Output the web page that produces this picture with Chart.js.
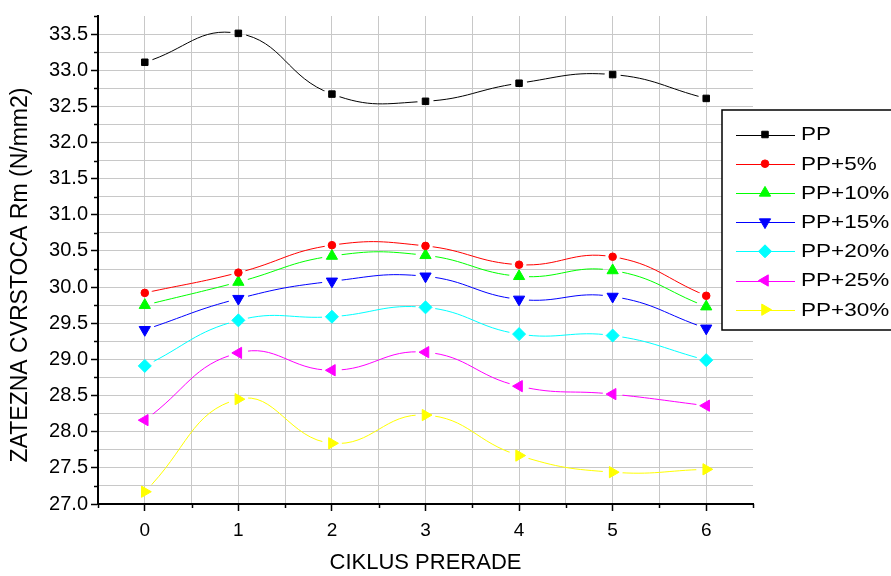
<!DOCTYPE html>
<html>
<head>
<meta charset="utf-8">
<script src="https://cdn.jsdelivr.net/npm/chart.js@4.4.0/dist/chart.umd.min.js"></script>
<style>
  html, body { margin: 0; padding: 0; background: #ffffff; }
  #wrap { width: 891px; height: 576px; position: relative; }
</style>
</head>
<body>
<div id="wrap"><canvas id="c" width="891" height="576"></canvas></div>
<script>
// Tensile strength per processing cycle for PP and PP blends
const cycles = [0, 1, 2, 3, 4, 5, 6];
const seriesNames = ['PP', 'PP+5%', 'PP+10%', 'PP+15%', 'PP+20%', 'PP+25%', 'PP+30%'];
const pp   = [33.11, 33.51, 32.67, 32.57, 32.82, 32.94, 32.61];
const pp5  = [29.92, 30.20, 30.58, 30.57, 30.31, 30.42, 29.88];
const pp10 = [29.75, 30.07, 30.43, 30.44, 30.15, 30.23, 29.73];
const pp15 = [29.41, 29.84, 30.08, 30.15, 29.83, 29.87, 29.43];
const pp20 = [28.91, 29.54, 29.59, 29.72, 29.35, 29.33, 28.99];
const pp25 = [28.16, 29.09, 28.85, 29.10, 28.63, 28.52, 28.36];
const pp30 = [27.17, 28.45, 27.84, 28.23, 27.67, 27.44, 27.48];
const xTickLabels = ['0', '1', '2', '3', '4', '5', '6'];
const yTickLabels = ['27.0', '27.5', '28.0', '28.5', '29.0', '29.5', '30.0', '30.5',
                     '31.0', '31.5', '32.0', '32.5', '33.0', '33.5'];

const FONT = "'Liberation Sans', Arial, sans-serif";
const GRID = '#c8c8c8';

const styles = [
  { color: '#000000', pointStyle: 'rect',     radius: 4.6, rotation: 0 },
  { color: '#ff0000', pointStyle: 'circle',   radius: 3.8, rotation: 0 },
  { color: '#00ff00', pointStyle: 'triangle', radius: 6.5, rotation: 0 },
  { color: '#0000ff', pointStyle: 'triangle', radius: 6.5, rotation: 180 },
  { color: '#00ffff', pointStyle: 'rectRot',  radius: 6.5, rotation: 0 },
  { color: '#ff00ff', pointStyle: 'triangle', radius: 6.5, rotation: 270 },
  { color: '#ffff00', pointStyle: 'triangle', radius: 6.5, rotation: 90 }
];
const values = [pp, pp5, pp10, pp15, pp20, pp25, pp30];

const datasets = values.map((vals, i) => ({
  label: seriesNames[i],
  data: cycles.map((c, j) => ({ x: c, y: vals[j] })),
  borderColor: styles[i].color,
  backgroundColor: styles[i].color,
  borderWidth: 1,
  pointStyle: styles[i].pointStyle,
  pointRadius: styles[i].radius,
  pointRotation: styles[i].rotation,
  pointBorderWidth: 1,
  pointBorderColor: styles[i].color,
  pointBackgroundColor: styles[i].color,
  tension: 0.45,
  fill: false
}));

// Draw text widened horizontally
function wideText(ctx, text, x, y, sx) {
  ctx.save();
  ctx.translate(x, y);
  ctx.scale(sx, 1);
  ctx.fillText(text, 0, 0);
  ctx.restore();
}

function drawMarker(ctx, st, x, y) {
  const opts = { pointStyle: st.pointStyle, radius: st.radius, rotation: st.rotation, borderWidth: 1 };
  ctx.save();
  ctx.fillStyle = st.color;
  ctx.strokeStyle = st.color;
  ctx.lineWidth = 1;
  Chart.helpers.drawPoint(ctx, opts, x, y);
  ctx.restore();
}

// Leave a small gap in each connecting line around its markers
const markerGaps = {
  id: 'markerGaps',
  beforeDatasetDraw(chart, args) {
    const ctx = chart.ctx;
    const meta = args.meta;
    const gap = styles[args.index].radius + 3.5;
    ctx.save();
    ctx.beginPath();
    ctx.rect(0, 0, chart.width, chart.height);
    meta.data.forEach(p => {
      ctx.moveTo(p.x + gap, p.y);
      ctx.arc(p.x, p.y, gap, 0, Math.PI * 2);
    });
    ctx.clip('evenodd');
  },
  afterDatasetDraw(chart, args) {
    const ctx = chart.ctx;
    ctx.restore();
    args.meta.data.forEach(p => p.draw(ctx, chart.chartArea));
  }
};

const decorations = {
  id: 'decorations',
  afterDraw(chart) {
    const ctx = chart.ctx;
    const xs = chart.scales.x, ys = chart.scales.y;
    const area = chart.chartArea;

    // minor tick marks
    ctx.save();
    ctx.strokeStyle = '#000';
    ctx.lineWidth = 1.5;
    ys.ticks.forEach(t => {
      if (Math.abs(t.value * 2 - Math.round(t.value * 2)) > 1e-6) {
        const py = Math.round(ys.getPixelForValue(t.value)) + 0.5;
        ctx.beginPath();
        ctx.moveTo(area.left - 4, py);
        ctx.lineTo(area.left, py);
        ctx.stroke();
      }
    });
    xs.ticks.forEach(t => {
      if (!Number.isInteger(t.value)) {
        const px = Math.round(xs.getPixelForValue(t.value)) + 0.5;
        ctx.beginPath();
        ctx.moveTo(px, area.bottom);
        ctx.lineTo(px, area.bottom + 4);
        ctx.stroke();
      }
    });
    ctx.restore();

    // vertical axis title
    ctx.save();
    ctx.fillStyle = '#000';
    ctx.font = '23px ' + FONT;
    ctx.textAlign = 'center';
    ctx.textBaseline = 'middle';
    ctx.translate(21, 275);
    ctx.rotate(-Math.PI / 2);
    ctx.fillText('ZATEZNA CVRSTOCA Rm (N/mm2)', 0, 0);
    ctx.restore();

    // legend box
    const bx = 722, by = 110, bw = 200, bh = 220;
    ctx.save();
    ctx.fillStyle = '#fff';
    ctx.fillRect(bx, by, bw, bh);
    ctx.strokeStyle = '#000';
    ctx.lineWidth = 1.5;
    ctx.strokeRect(bx, by, bw, bh);
    chart.data.datasets.forEach((ds, i) => {
      const y = 134.5 + i * 29.2;
      ctx.strokeStyle = ds.borderColor;
      ctx.lineWidth = 1;
      ctx.beginPath();
      ctx.moveTo(736, Math.round(y) + 0.5);
      ctx.lineTo(795, Math.round(y) + 0.5);
      ctx.stroke();
      drawMarker(ctx, styles[i], 765, y);
      ctx.fillStyle = '#000';
      ctx.font = '18px ' + FONT;
      ctx.textAlign = 'left';
      ctx.textBaseline = 'middle';
      wideText(ctx, ds.label, 801, y + 1, 1.25);
    });
    ctx.restore();
  }
};

new Chart(document.getElementById('c'), {
  type: 'line',
  data: { datasets },
  plugins: [markerGaps, decorations],
  options: {
    responsive: false,
    animation: false,
    devicePixelRatio: 1,
    layout: { padding: { top: 16, right: 138, left: 0, bottom: 0 } },
    plugins: { legend: { display: false }, tooltip: { enabled: false } },
    scales: {
      x: {
        type: 'linear',
        min: -0.5,
        max: 6.5,
        afterFit: s => { s.height = 72; },
        border: { color: '#000', width: 2 },
        grid: {
          color: c => (c.tick && (c.tick.value <= -0.5 || c.tick.value >= 6.5)) ? 'rgba(0,0,0,0)' : GRID,
          lineWidth: 1,
          tickLength: 7,
          tickColor: c => (c.tick && Number.isInteger(c.tick.value)) ? '#000' : 'rgba(0,0,0,0)',
          tickWidth: 1.5
        },
        ticks: {
          stepSize: 0.5,
          autoSkip: false,
          maxRotation: 0,
          color: '#000',
          padding: 8,
          font: { family: FONT, size: 19 },
          callback: v => {
            const i = xTickLabels.indexOf(String(v));
            return i >= 0 ? xTickLabels[i] : '';
          }
        },
        title: {
          display: true,
          text: 'CIKLUS PRERADE',
          color: '#000',
          font: { family: FONT, size: 22 },
          padding: 0
        }
      },
      y: {
        min: 27.0,
        max: 33.75,
        afterFit: s => { s.width = 98; },
        border: { color: '#000', width: 2 },
        grid: {
          color: c => (c.tick && c.tick.value >= 33.75) ? 'rgba(0,0,0,0)' : GRID,
          lineWidth: 1,
          tickLength: 7,
          tickColor: c => (c.tick && Math.abs(c.tick.value * 2 - Math.round(c.tick.value * 2)) < 1e-6) ? '#000' : 'rgba(0,0,0,0)',
          tickWidth: 1.5
        },
        ticks: {
          stepSize: 0.25,
          autoSkip: false,
          color: '#000',
          padding: 3,
          font: { family: FONT, size: 20 },
          callback: v => {
            if (Math.abs(v * 2 - Math.round(v * 2)) > 1e-6) return '';
            const s = v.toFixed(1);
            return yTickLabels.includes(s) ? s : '';
          }
        }
      }
    }
  }
});
</script>
</body>
</html>
